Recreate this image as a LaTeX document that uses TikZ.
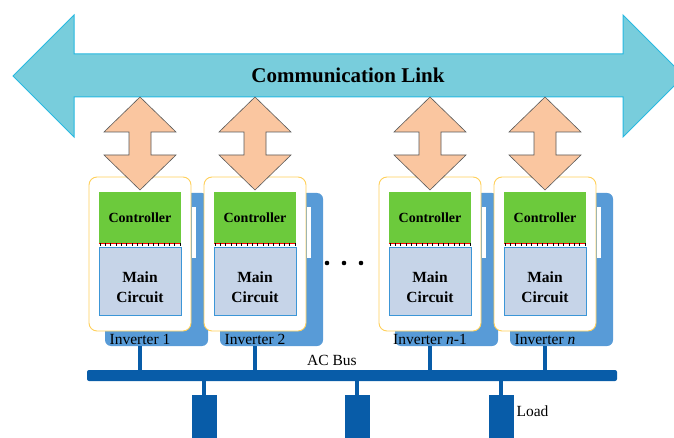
\documentclass[tikz,border=0pt]{standalone}
\usepackage{fontspec}
\setmainfont{Liberation Serif}
\definecolor{linkfill}{RGB}{120,205,220}
\definecolor{linkline}{RGB}{40,185,225}
\definecolor{peach}{RGB}{250,198,160}
\definecolor{ctrlgreen}{RGB}{108,202,60}
\definecolor{circfill}{RGB}{198,212,232}
\definecolor{circline}{RGB}{60,150,215}
\definecolor{backblue}{RGB}{88,155,215}
\definecolor{framey}{RGB}{255,208,90}
\definecolor{busblue}{RGB}{8,92,168}
\tikzset{
  backbox/.style={fill=backblue, rounded corners=6pt, minimum width=103pt, minimum height=153pt, inner sep=0pt},
  framebox/.style={draw=framey, fill=white, line width=0.9pt, rounded corners=8pt, minimum width=102pt, minimum height=154pt, inner sep=0pt},
  ctrlbox/.style={fill=ctrlgreen, minimum width=82pt, minimum height=51pt, inner sep=0pt, font=\bfseries\fontsize{14}{16}\selectfont},
  circbox/.style={draw=circline, fill=circfill, minimum width=82pt, minimum height=68pt, inner sep=0pt},
  stub/.style={draw=busblue, line width=4.5pt},
}
\begin{document}
\begin{tikzpicture}[x=1pt, y=-1pt]
    \useasboundingbox (0,0) rectangle (674,438);

    % Communication link
    \draw[linkline, fill=linkfill, line width=1pt] (13,76) -- (74,15) -- (74,54) -- (623,54) -- (623,15)
        -- (684,76) -- (623,137) -- (623,97) -- (74,97) -- (74,137) -- cycle;
    \node (link) at (348,75) {\bfseries\fontsize{21}{24}\selectfont Communication Link};

    % Inverters
    \foreach \cx/\nm/\lab in {140/1/{Inverter 1}, 255/2/{Inverter 2}, 430/3/{Inverter \textit{n}-1}, 545/4/{Inverter \textit{n}}} {
        \node (back\nm) [backbox] at (\cx+16.5,269.5) {};
        \node (frame\nm) [framebox] at (\cx,254) {};
        \fill[white] (\cx+51.5,207) rectangle (\cx+56,258);
        \node (ctrl\nm) [ctrlbox] at (\cx,218) {Controller};
        \node (circ\nm) [circbox] at (\cx,281) {};
        \node (main\nm) [align=center, font=\bfseries\fontsize{15.5}{20}\selectfont] at (\cx,287) {Main\\Circuit};
        \node (lbl\nm) [font=\fontsize{15.5}{18}\selectfont] at (\cx,339) {\lab};
        % pins between controller and main circuit
        \fill[white] (\cx-41,243) rectangle (\cx+41,247);
        \draw[red, line width=0.6pt] (\cx-41,243) -- (\cx+41,243);
        \foreach \i in {0,...,15}
            \draw[black, line width=0.4pt] (\cx-40+\i*5.33,243) -- ++(0,3.5);
        % data exchange arrow
        \draw[gray!70!black, fill=peach, line width=0.6pt] (\cx,97) -- (\cx+36,132) -- (\cx+11,132) -- (\cx+11,155)
            -- (\cx+36,155) -- (\cx,190) -- (\cx-36,155) -- (\cx-11,155) -- (\cx-11,132) -- (\cx-36,132) -- cycle;
    }

    % Dots
    \foreach \x in {327,344,361}
        \fill (\x,263) circle (2.3pt);

    % Bus and loads
    \node (bus) [fill=busblue, rounded corners=2pt, minimum width=530pt, minimum height=11pt, inner sep=0pt] at (352,375.5) {};
    \node (acbus) [font=\fontsize{15.5}{18}\selectfont] at (332,360) {AC Bus};
    \foreach \nm in {1,...,4}
        \draw[stub] (lbl\nm |- back\nm.south) -- (lbl\nm |- bus.north);
    \foreach \x/\nm in {204/1, 357/2, 501/3} {
        \node (load\nm) [fill=busblue, minimum width=25pt, minimum height=50pt, inner sep=0pt, anchor=north] at (\x,395) {};
        \draw[stub] (bus.south -| load\nm) -- (load\nm.north);
    }
    \node (loadlbl) [font=\fontsize{15.5}{18}\selectfont, anchor=west] at (513,411) {Load};
\end{tikzpicture}
\end{document}
